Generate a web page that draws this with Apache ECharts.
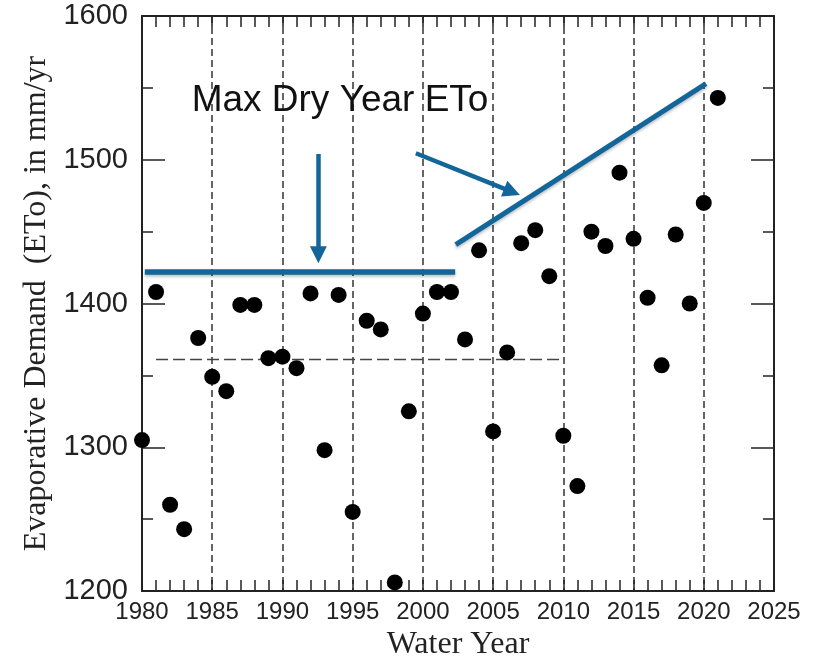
<!DOCTYPE html>
<html><head><meta charset="utf-8">
<script src="https://cdn.jsdelivr.net/npm/echarts@6/dist/echarts.min.js"></script>
<style>html,body{margin:0;padding:0;background:#fff}#c{width:823px;height:657px}</style>
</head><body><div id="c"></div>
<script>
// ---- data ----
const years = [1980,1981,1982,1983,1984,1985,1986,1987,1988,1989,1990,1991,1992,1993,1994,1995,1996,1997,1998,1999,2000,2001,2002,2003,2004,2005,2006,2007,2008,2009,2010,2011,2012,2013,2014,2015,2016,2017,2018,2019,2020,2021];
const eto = [1305,1408,1260,1243,1376,1349,1339,1399,1399,1362,1363,1355,1407,1298,1406,1255,1388,1382,1206,1325,1393,1408,1408,1375,1437,1311,1366,1442,1451,1419,1308,1273,1450,1440,1491,1445,1404,1357,1448,1400,1470,1543];
const xTickLabels = [1980,1985,1990,1995,2000,2005,2010,2015,2020,2025];
const yTickLabels = [1200,1300,1400,1500,1600];
const refYears = [1981, 2010];
const refValue = 1361;
const maxDryYears = [1980.2, 2002.3];
const maxDryValue = 1422;
const downArrowYears = [1992.56, 1992.56];
const downArrowValues = [1504, 1434];
const pointerYears = [1999.5, 2006.35];
const pointerValues = [1504.5, 1477.7];
const trendYears = [2002.34, 2020.16];
const trendValues = [1441, 1553];
const annotationText = 'Max Dry Year ETo';
const annotationAt = [1994.1, 1541];

const BLUE = '#12669a';
const INK = '#222';
const pair = (xs, ys) => xs.map((x, i) => [x, ys[i]]);

const chart = echarts.init(document.getElementById('c'), null, {renderer: 'canvas'});
const axisLine = {show: true, lineStyle: {color: INK, width: 2}};
const xTickCommon = {
  type: 'value', min: xTickLabels[0], max: xTickLabels[xTickLabels.length - 1], interval: 5,
  axisLine,
  axisTick: {show: true, inside: true, length: 11, lineStyle: {color: INK, width: 1.5}},
  minorTick: {show: true, splitNumber: 5, length: 11, lineStyle: {color: INK, width: 1.5}}
};
const yTickCommon = {
  type: 'value', min: yTickLabels[0], max: yTickLabels[yTickLabels.length - 1], interval: 100,
  axisLine,
  axisTick: {show: true, inside: true, length: 23, lineStyle: {color: INK, width: 1.5}},
  minorTick: {show: true, splitNumber: 2, length: 11, lineStyle: {color: INK, width: 1.5}},
  splitLine: {show: false}
};

chart.setOption({
  animation: false,
  backgroundColor: '#fff',
  grid: {left: 142, right: 49, top: 16, bottom: 66, containLabel: false, outerBoundsMode: 'none'},
  xAxis: [
    Object.assign({}, xTickCommon, {
      position: 'bottom',
      axisLabel: {fontSize: 24, color: INK, margin: 9, fontFamily: 'Liberation Sans', formatter: v => String(v)},
      splitLine: {show: true, lineStyle: {color: '#333', width: 1.5, type: [7, 4]}},
      name: 'Water Year', nameLocation: 'middle', nameGap: 36,
      nameTextStyle: {fontFamily: 'Liberation Serif', fontSize: 32, color: INK}
    }),
    Object.assign({}, xTickCommon, {
      position: 'top', axisLabel: {show: false}, splitLine: {show: false}
    })
  ],
  yAxis: [
    Object.assign({}, yTickCommon, {
      position: 'left',
      axisLabel: {fontSize: 29, color: INK, margin: 14, fontFamily: 'Liberation Sans', formatter: v => String(v)},
      name: 'Evaporative Demand  (ETo), in mm/yr', nameLocation: 'middle', nameGap: 76,
      nameTextStyle: {fontFamily: 'Liberation Serif', fontSize: 32, color: INK}
    }),
    Object.assign({}, yTickCommon, {
      position: 'right', axisLabel: {show: false}
    })
  ],
  series: [
    {
      type: 'line', xAxisIndex: 0, yAxisIndex: 0,
      data: pair(refYears, [refValue, refValue]),
      symbol: 'none', lineStyle: {color: '#444', width: 1.5, type: [12, 5]}, z: 2
    },
    {
      type: 'line', data: pair(maxDryYears, [maxDryValue, maxDryValue]),
      symbol: 'none', lineStyle: {color: BLUE, width: 5.5, shadowColor: 'rgba(0,0,0,0.25)', shadowBlur: 3, shadowOffsetY: 2}, z: 4
    },
    {
      type: 'line', data: pair(trendYears, trendValues),
      symbol: 'none', lineStyle: {color: BLUE, width: 5, shadowColor: 'rgba(0,0,0,0.25)', shadowBlur: 3, shadowOffsetY: 2}, z: 4
    },
    {
      type: 'lines', coordinateSystem: 'cartesian2d',
      symbol: ['none', 'triangle'], symbolSize: [17, 17],
      itemStyle: {color: BLUE},
      lineStyle: {color: BLUE, width: 4.5, opacity: 1, curveness: 0},
      data: [
        {coords: pair(downArrowYears, downArrowValues)},
        {coords: pair(pointerYears, pointerValues)}
      ], z: 4
    },
    {
      type: 'scatter', data: pair(years, eto),
      symbol: 'circle', symbolSize: 16, itemStyle: {color: '#000', opacity: 1}, z: 5
    },
    {
      type: 'scatter', data: [annotationAt], symbolSize: 1,
      itemStyle: {color: 'rgba(0,0,0,0)', opacity: 1},
      label: {show: true, position: 'inside', formatter: annotationText,
        fontFamily: 'Liberation Sans', fontSize: 37, color: '#111'},
      silent: true, z: 6
    }
  ]
});
</script>
</body></html>
